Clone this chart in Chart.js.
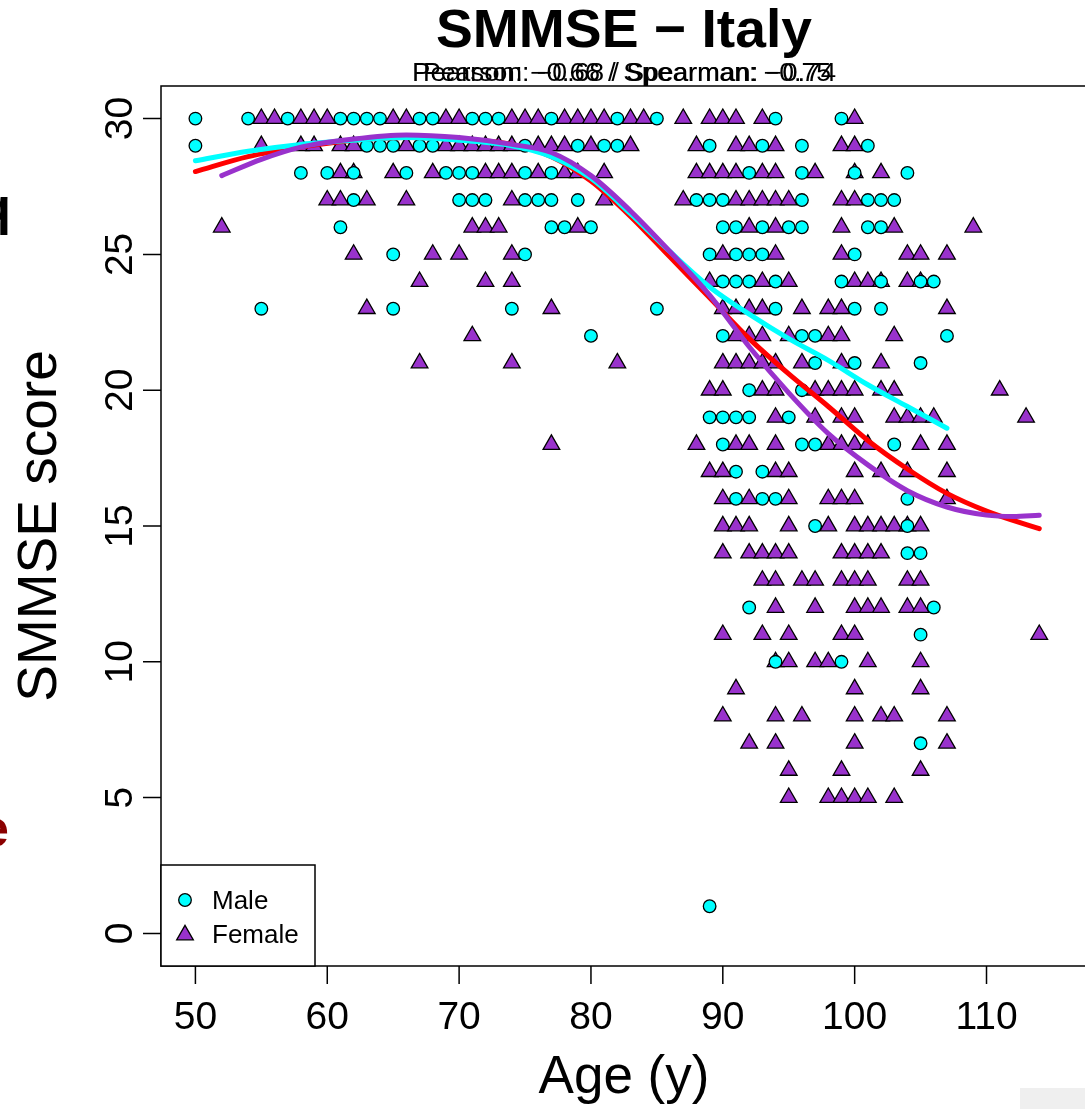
<!DOCTYPE html>
<html>
<head>
<meta charset="utf-8">
<script src="https://cdn.jsdelivr.net/npm/chart.js@4.4.1/dist/chart.umd.min.js"></script>
<style>
  html, body { margin: 0; padding: 0; background: #fff; }
  canvas { display: block; }
</style>
</head>
<body>
<canvas id="myChart" width="1085" height="1109"></canvas>
<script>
// Male (circles), one line per score row
const maleAge = [
  50,54,57,61,62,63,64,67,68,71,72,73,77,82,85,94,99,
  50,63,64,65,67,68,75,79,81,82,89,93,96,101,
  58,60,62,66,69,70,71,75,77,92,96,100,104,
  62,70,71,72,75,76,77,79,88,89,90,96,101,102,103,
  61,77,78,80,90,91,93,95,96,101,102,
  65,75,89,91,92,93,100,
  90,91,92,94,99,102,105,106,
  55,65,74,85,94,100,102,
  80,90,96,97,107,
  97,100,105,
  92,96,
  89,90,91,92,95,
  90,96,97,103,
  91,93,
  91,93,94,104,
  97,104,
  104,105,
  92,106,
  105,
  94,99,
  105,
  89
];
const maleScore = [
  30,30,30,30,30,30,30,30,30,30,30,30,30,30,30,30,30,
  29,29,29,29,29,29,29,29,29,29,29,29,29,29,
  28,28,28,28,28,28,28,28,28,28,28,28,28,
  27,27,27,27,27,27,27,27,27,27,27,27,27,27,27,
  26,26,26,26,26,26,26,26,26,26,26,
  25,25,25,25,25,25,25,
  24,24,24,24,24,24,24,24,
  23,23,23,23,23,23,23,
  22,22,22,22,22,
  21,21,21,
  20,20,
  19,19,19,19,19,
  18,18,18,18,
  17,17,
  16,16,16,16,
  15,15,
  14,14,
  12,12,
  11,
  10,10,
  7,
  1
];

// Female (triangles)
const femaleAge = [
  55,56,58,59,60,65,66,69,70,74,75,76,78,79,80,81,83,84,87,89,90,91,93,100,
  55,58,59,61,62,66,69,70,71,72,73,74,76,77,78,80,83,88,91,92,94,99,100,
  61,62,65,68,72,73,74,76,78,79,81,88,89,90,91,93,94,97,100,102,
  60,61,63,66,74,81,87,91,92,93,94,95,99,100,
  52,71,72,73,79,92,94,99,103,109,
  62,68,70,74,90,94,99,104,105,107,
  67,72,74,89,93,95,100,101,102,104,105,
  63,77,90,91,92,93,96,98,99,107,
  71,91,92,93,95,98,99,103,
  67,74,82,90,91,92,93,94,96,99,102,
  89,90,93,94,97,98,99,100,102,103,111,
  94,97,99,100,103,104,105,106,113,
  77,88,91,92,94,98,99,100,101,105,107,
  89,90,94,95,100,102,104,107,
  90,92,95,98,99,100,107,
  90,91,92,95,98,100,101,102,103,104,105,
  90,92,93,94,95,99,100,101,102,
  93,94,96,97,99,100,101,104,105,
  94,97,100,101,102,104,105,
  90,93,95,99,100,114,
  94,95,97,98,101,105,
  91,100,105,
  90,94,96,100,102,103,107,
  92,94,100,107,
  95,99,105,
  95,98,99,100,101,103
];
const femaleScore = [
  30,30,30,30,30,30,30,30,30,30,30,30,30,30,30,30,30,30,30,30,30,30,30,30,
  29,29,29,29,29,29,29,29,29,29,29,29,29,29,29,29,29,29,29,29,29,29,29,
  28,28,28,28,28,28,28,28,28,28,28,28,28,28,28,28,28,28,28,28,
  27,27,27,27,27,27,27,27,27,27,27,27,27,27,
  26,26,26,26,26,26,26,26,26,26,
  25,25,25,25,25,25,25,25,25,25,
  24,24,24,24,24,24,24,24,24,24,24,
  23,23,23,23,23,23,23,23,23,23,
  22,22,22,22,22,22,22,22,
  21,21,21,21,21,21,21,21,21,21,21,
  20,20,20,20,20,20,20,20,20,20,20,
  19,19,19,19,19,19,19,19,19,
  18,18,18,18,18,18,18,18,18,18,18,
  17,17,17,17,17,17,17,17,
  16,16,16,16,16,16,16,
  15,15,15,15,15,15,15,15,15,15,15,
  14,14,14,14,14,14,14,14,14,
  13,13,13,13,13,13,13,13,13,
  12,12,12,12,12,12,12,
  11,11,11,11,11,11,
  10,10,10,10,10,10,
  9,9,9,
  8,8,8,8,8,8,8,
  7,7,7,7,
  6,6,6,
  5,5,5,5,5,5
];

// smoothers
const allCurveAge   = [50, 54, 58, 62, 66, 70, 74, 77, 80, 83, 86, 89, 92, 95, 98, 101, 104, 107, 110, 114];
const allCurveScore = [28.05, 28.6, 28.95, 29.2, 29.3, 29.25, 29.05, 28.6, 27.7, 26.4, 24.9, 23.4, 21.9, 20.6, 19.4, 18.15, 17.1, 16.2, 15.55, 14.9];
const maleCurveAge   = [50, 54, 58, 62, 66, 70, 74, 77, 80, 83, 86, 89, 92, 95, 98, 101, 104, 107];
const maleCurveScore = [28.45, 28.8, 29.05, 29.2, 29.3, 29.2, 29.0, 28.6, 27.8, 26.5, 25.1, 23.8, 22.8, 21.9, 21.1, 20.2, 19.4, 18.6];
const femaleCurveAge   = [52, 55, 58, 62, 66, 70, 74, 77, 80, 83, 86, 89, 92, 95, 98, 101, 104, 107, 110, 112, 114];
const femaleCurveScore = [27.9, 28.5, 28.95, 29.25, 29.4, 29.3, 29.05, 28.75, 27.9, 26.6, 25.1, 23.5, 21.6, 19.9, 18.4, 17.25, 16.3, 15.7, 15.4, 15.35, 15.4];

const xTicks = [50, 60, 70, 80, 90, 100, 110];
const yTicks = [0, 5, 10, 15, 20, 25, 30];

const CYAN = '#00FFFF';
const ORCHID = '#9932CC';
const FONT = '"Liberation Sans", Arial, Helvetica, sans-serif';

function pairs(xs, ys) {
  return xs.map((x, i) => ({ x: x, y: ys[i] }));
}

function fitText(ctx, text, cx, y, font, width) {
  ctx.save();
  ctx.font = font;
  const w = ctx.measureText(text).width;
  ctx.translate(cx, y);
  ctx.scale(width / w, 1);
  ctx.textAlign = 'center';
  ctx.textBaseline = 'alphabetic';
  ctx.fillText(text, 0, 0);
  ctx.restore();
}

function triangle(ctx, x, y, r) {
  ctx.beginPath();
  ctx.moveTo(x, y - r);
  ctx.lineTo(x + r * Math.sin(Math.PI * 2 / 3), y + r / 2);
  ctx.lineTo(x - r * Math.sin(Math.PI * 2 / 3), y + r / 2);
  ctx.closePath();
}

const frame = {
  id: 'frame',
  afterDraw(chart) {
    const ctx = chart.ctx;
    const a = chart.chartArea;
    const xs = chart.scales.x;
    const ys = chart.scales.y;
    ctx.save();
    ctx.fillStyle = '#000';
    ctx.strokeStyle = '#000';
    ctx.lineWidth = 1.5;

    // box (right side falls just outside the picture)
    ctx.strokeRect(a.left, a.top, a.right + 2 - a.left, a.bottom - a.top);

    // tick marks
    ctx.beginPath();
    xTicks.forEach(v => {
      const px = xs.getPixelForValue(v);
      ctx.moveTo(px, a.bottom);
      ctx.lineTo(px, a.bottom + 18);
    });
    yTicks.forEach(v => {
      const py = ys.getPixelForValue(v);
      ctx.moveTo(a.left, py);
      ctx.lineTo(a.left - 18, py);
    });
    ctx.stroke();

    // tick labels
    ctx.font = '39px ' + FONT;
    ctx.textAlign = 'center';
    ctx.textBaseline = 'alphabetic';
    xTicks.forEach(v => ctx.fillText(String(v), xs.getPixelForValue(v), 1029));
    yTicks.forEach(v => {
      ctx.save();
      ctx.translate(132, ys.getPixelForValue(v));
      ctx.rotate(-Math.PI / 2);
      ctx.fillText(String(v), 0, 0);
      ctx.restore();
    });

    // axis titles
    ctx.font = '53px ' + FONT;
    ctx.fillText('Age (y)', 624, 1093);
    ctx.save();
    ctx.translate(56, (a.top + a.bottom) / 2);
    ctx.rotate(-Math.PI / 2);
    ctx.font = '55px ' + FONT;
    ctx.fillText('SMMSE score', 0, 0);
    ctx.restore();

    // title and correlation line (two overprinted strings)
    fitText(ctx, 'SMMSE \u2212 Italy', 624, 47, 'bold 53px ' + FONT, 376);
    fitText(ctx, 'Pearson: \u22120.66 / Spearman: \u22120.74', 624, 81, '25px ' + FONT, 424);
    fitText(ctx, 'Pearson: \u22120.68 / Spearman: \u22120.75', 627, 81, '25px ' + FONT, 408);

    // legend
    ctx.fillStyle = '#fff';
    ctx.fillRect(a.left, 865, 315 - a.left, a.bottom - 865);
    ctx.strokeRect(a.left, 865, 315 - a.left, a.bottom - 865);
    ctx.lineWidth = 1.3;
    ctx.beginPath();
    ctx.arc(185, 900, 6.3, 0, Math.PI * 2);
    ctx.fillStyle = CYAN;
    ctx.fill();
    ctx.stroke();
    triangle(ctx, 185, 935, 9.6);
    ctx.fillStyle = ORCHID;
    ctx.fill();
    ctx.stroke();
    ctx.fillStyle = '#000';
    ctx.font = '26px ' + FONT;
    ctx.textAlign = 'left';
    ctx.fillText('Male', 212, 909);
    ctx.fillText('Female', 212, 943);

    // slivers of neighbouring panels at the left edge
    ctx.font = 'bold 52px ' + FONT;
    ctx.textAlign = 'right';
    ctx.fillText('q', 11, 224);
    ctx.fillStyle = '#8B0000';
    ctx.fillText('e', 9, 846);

    ctx.fillStyle = '#EFEFEF';
    ctx.fillRect(1020, 1088, 65, 21);
    ctx.restore();
  }
};

const ctx = document.getElementById('myChart').getContext('2d');
const myChart = new Chart(ctx, {
  type: 'scatter',
  data: {
    datasets: [
      {
        label: 'Female smooth',
        data: pairs(femaleCurveAge, femaleCurveScore),
        showLine: true,
        borderColor: ORCHID,
        borderWidth: 5,
        borderCapStyle: 'round',
        pointRadius: 0,
        cubicInterpolationMode: 'monotone',
        order: 0
      },
      {
        label: 'Male smooth',
        data: pairs(maleCurveAge, maleCurveScore),
        showLine: true,
        borderColor: CYAN,
        borderWidth: 5,
        borderCapStyle: 'round',
        pointRadius: 0,
        cubicInterpolationMode: 'monotone',
        order: 1
      },
      {
        label: 'All smooth',
        data: pairs(allCurveAge, allCurveScore),
        showLine: true,
        borderColor: '#FF0000',
        borderWidth: 5,
        borderCapStyle: 'round',
        pointRadius: 0,
        cubicInterpolationMode: 'monotone',
        order: 2
      },
      {
        label: 'Male',
        data: pairs(maleAge, maleScore),
        pointStyle: 'circle',
        pointRadius: 6.3,
        pointHoverRadius: 6.3,
        backgroundColor: CYAN,
        borderColor: '#000',
        borderWidth: 1.3,
        order: 3
      },
      {
        label: 'Female',
        data: pairs(femaleAge, femaleScore),
        pointStyle: 'triangle',
        pointRadius: 9.6,
        pointHoverRadius: 9.6,
        backgroundColor: ORCHID,
        borderColor: '#000',
        borderWidth: 1.3,
        order: 4
      }
    ]
  },
  options: {
    responsive: false,
    animation: false,
    devicePixelRatio: 1,
    layout: { autoPadding: false, padding: { left: 161, top: 86, bottom: 143, right: 0 } },
    scales: {
      x: { type: 'linear', min: 47.39, max: 117.47, display: false },
      y: { type: 'linear', min: -1.2, max: 31.2, display: false }
    },
    plugins: {
      legend: { display: false },
      tooltip: { enabled: false }
    }
  },
  plugins: [frame]
});
</script>
</body>
</html>
